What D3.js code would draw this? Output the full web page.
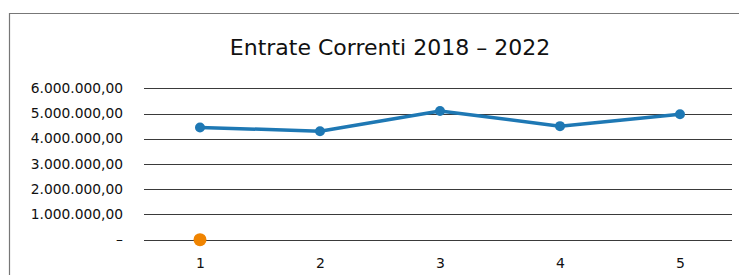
<!DOCTYPE html>
<html><head><meta charset="utf-8">
<script src="https://cdn.jsdelivr.net/npm/d3@7"></script>
<style>body{margin:0;background:#fff}svg{display:block}</style>
</head><body>
<svg id="c" width="739" height="275"></svg>
<script>
const categories = [1, 2, 3, 4, 5];
const entrate = [4450000, 4300000, 5100000, 4500000, 4970000];
const secondSeries = [0];
const yTicks = [0, 1000000, 2000000, 3000000, 4000000, 5000000, 6000000];
const title = "Entrate Correnti 2018 – 2022";

const svg = d3.select("#c");
// outer frame
svg.append("path").attr("d", "M9.5,290 V13.5 H745").attr("fill","none").attr("stroke","#777").attr("stroke-width",1.2);

const x = d3.scalePoint().domain(categories).range([200, 680]);
const y = d3.scaleLinear().domain([0, 6000000]).range([239.7, 88.3]);

const fmt = v => v === 0 ? "–" : d3.formatLocale({decimal:",", thousands:".", grouping:[3], currency:["",""]}).format(",.2f")(v);

// gridlines
svg.append("g").selectAll("line").data(yTicks).join("line")
  .attr("x1", 144).attr("x2", 732)
  .attr("y1", d => Math.round(y(d)) + 0.5).attr("y2", d => Math.round(y(d)) + 0.5)
  .attr("stroke", "#3a3a3a").attr("stroke-width", 1.2);

// y labels
const yAxis = d3.axisLeft(y).tickValues(yTicks).tickFormat(fmt).tickSize(0).tickPadding(0);
const gy = svg.append("g").attr("transform","translate(123,0)").call(yAxis);
gy.select(".domain").remove();
gy.selectAll("text").attr("font-family","DejaVu Sans").attr("font-size","13.8px").attr("fill","#111").attr("dy","0.3em");

// x labels
const xAxis = d3.axisBottom(x).tickSize(0).tickPadding(0);
const gx = svg.append("g").attr("transform","translate(0,268)").call(xAxis);
gx.select(".domain").remove();
gx.selectAll("text").attr("font-family","DejaVu Sans").attr("font-size","14px").attr("fill","#111").attr("dy","0");

// title
svg.append("text").attr("x", 390).attr("y", 55).attr("text-anchor","middle")
  .attr("font-family","DejaVu Sans").attr("font-size","22px").attr("fill","#111").text(title);

// line
const line = d3.line().x((d,i) => x(categories[i])).y(d => y(d));
svg.append("path").datum(entrate).attr("d", line).attr("fill","none")
  .attr("stroke","#1e78b4").attr("stroke-width",3.5).attr("stroke-linejoin","round");
svg.append("g").selectAll("circle").data(entrate).join("circle")
  .attr("cx",(d,i)=>x(categories[i])).attr("cy",d=>y(d)).attr("r",5)
  .attr("fill","#1e78b4");

// orange point
svg.append("g").selectAll("circle").data(secondSeries).join("circle")
  .attr("cx",(d,i)=>x(categories[i])).attr("cy",d=>y(d)).attr("r",6.5)
  .attr("fill","#f08400");
</script>
</body></html>
